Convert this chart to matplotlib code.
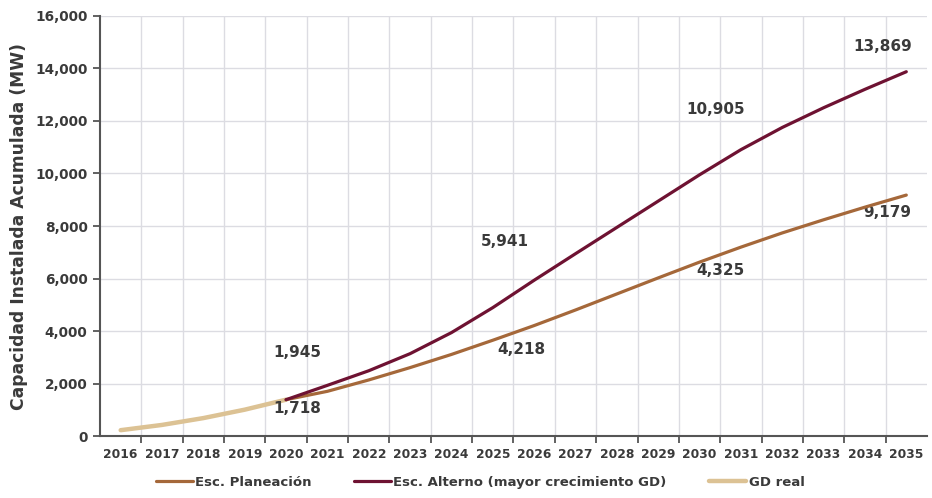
import matplotlib.pyplot as plt
from matplotlib.ticker import FuncFormatter

# Años del eje (categorías)
anios = [str(a) for a in range(2016, 2036)]

# Capacidad instalada acumulada (MW)
gd_real_anios = ['2016', '2017', '2018', '2019', '2020']
gd_real = [240, 440, 700, 1020, 1400]

esc_anios = [str(a) for a in range(2020, 2036)]
esc_planeacion = [1400, 1718, 2150, 2620, 3120, 3660, 4218, 4810, 5420,
                  6030, 6630, 7200, 7740, 8240, 8720, 9179]
esc_alterno = [1400, 1945, 2500, 3150, 3950, 4900, 5941, 6950, 7950,
               8950, 9950, 10905, 11750, 12500, 13200, 13869]

# Etiquetas de valores mostradas en la gráfica
etiquetas = ['1,945', '1,718', '5,941', '4,218', '10,905', '4,325', '13,869', '9,179']
pos_etiquetas = [(4.27, 3210), (4.27, 1050), (9.3, 7400), (9.69, 3290),
                 (14.4, 12450), (14.5, 6330), (18.43, 14810), (18.53, 8500)]

c_plan = '#a5683a'
c_alt = '#6e1232'
c_gd = '#dcc294'
c_txt = '#3a3a3a'

plt.rcParams['font.family'] = ['DejaVu Sans']

fig = plt.figure(figsize=(9.32, 4.98), dpi=100)
ax = fig.add_axes([0.1073, 0.1235, 0.8873, 0.845])

idx = {a: i for i, a in enumerate(anios)}
ax.plot([idx[a] for a in gd_real_anios], gd_real, color=c_gd, lw=3.2,
        solid_capstyle='round', label='GD real', zorder=3)
ax.plot([idx[a] for a in esc_anios], esc_planeacion, color=c_plan, lw=2.3,
        solid_capstyle='round', solid_joinstyle='round',
        label='Esc. Planeación', zorder=4)
ax.plot([idx[a] for a in esc_anios], esc_alterno, color=c_alt, lw=2.3,
        solid_capstyle='round', solid_joinstyle='round',
        label='Esc. Alterno (mayor crecimiento GD)', zorder=5)

for txt, (x, y) in zip(etiquetas, pos_etiquetas):
    ax.text(x, y, txt, ha='center', va='center', fontsize=11,
            fontweight='bold', color=c_txt)

ax.set_xlim(-0.5, len(anios) - 0.5)
ax.set_ylim(0, 16000)
ax.set_yticks(range(0, 16001, 2000))
ax.yaxis.set_major_formatter(FuncFormatter(lambda v, p: f'{int(v):,}'))

# categorías con marcas entre años
ax.set_xticks(range(len(anios)))
ax.set_xticklabels(anios)
ax.set_xticks([i + 0.5 for i in range(len(anios) - 1)], minor=True)
ax.tick_params(axis='x', which='major', length=0, pad=8, labelsize=8.8,
               labelcolor=c_txt)
ax.tick_params(axis='x', which='minor', length=5, width=1.3, color='#555555',
               direction='out')
ax.tick_params(axis='y', length=5, width=1.3, color='#555555', labelsize=9.8,
               labelcolor=c_txt, pad=4)
for lab in ax.get_xticklabels() + ax.get_yticklabels():
    lab.set_fontweight('bold')

ax.grid(False)
ax.yaxis.grid(True, color='#dcdce2', lw=1)
ax.xaxis.grid(True, which='minor', color='#dcdce2', lw=1)
ax.set_axisbelow(True)

for s in ['top', 'right']:
    ax.spines[s].set_visible(False)
for s in ['left', 'bottom']:
    ax.spines[s].set_color('#555555')
    ax.spines[s].set_linewidth(1.5)

ax.set_ylabel('Capacidad Instalada Acumulada (MW)', fontsize=12.3,
              fontweight='bold', color=c_txt, labelpad=5)

h, l = ax.get_legend_handles_labels()
orden = [1, 2, 0]
leg = fig.legend([h[i] for i in orden], [l[i] for i in orden], loc='lower center',
                 bbox_to_anchor=(0.515, -0.005), ncol=3, frameon=False,
                 handlelength=2.8, handletextpad=0.2, columnspacing=3.2,
                 prop={'size': 9.5, 'weight': 'bold'})
for t in leg.get_texts():
    t.set_color(c_txt)

fig.savefig('out.png', dpi=100, facecolor='white')
